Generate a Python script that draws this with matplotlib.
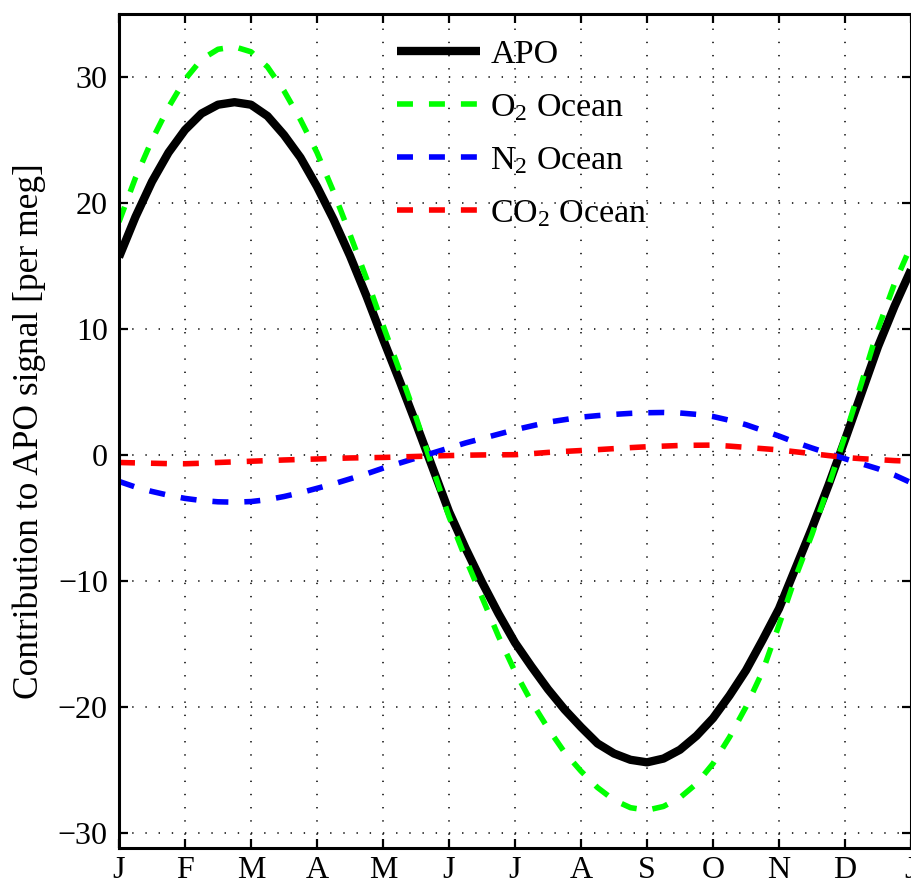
import numpy as np
import matplotlib
matplotlib.use('Agg')
import matplotlib.pyplot as plt

plt.rcParams['font.family'] = ['Liberation Serif', 'DejaVu Serif']
plt.rcParams['mathtext.fontset'] = 'custom'
plt.rcParams['mathtext.rm'] = 'Liberation Serif'
plt.rcParams['mathtext.it'] = 'Liberation Serif:italic'
plt.rcParams['lines.scale_dashes'] = False

# mois (pas de 0.25 mois)
mois = np.arange(0, 12.01, 0.25)
mois_labels = ['J', 'F', 'M', 'A', 'M', 'J', 'J', 'A', 'S', 'O', 'N', 'D', 'J']

apo = [15.7, 18.9, 21.7, 24.0, 25.8, 27.1, 27.8, 28.0, 27.8, 26.9, 25.4, 23.6, 21.3,
       18.7, 15.8, 12.6, 9.2, 5.9, 2.5, -1.0, -4.5, -7.4, -10.1, -12.6, -14.9,
       -16.8, -18.6, -20.2, -21.6, -22.9, -23.7, -24.2, -24.4, -24.1, -23.4, -22.3, -20.9,
       -19.1, -17.1, -14.7, -12.2, -9.0, -5.8, -2.4, 1.2, 4.9, 8.6, 11.8, 14.7]
o2 = [18.5, 22.0, 25.0, 27.6, 29.8, 31.4, 32.2, 32.4, 32.0, 30.8, 28.9, 26.6, 24.0,
      20.9, 17.5, 14.0, 10.3, 6.7, 3.0, -1.0, -4.9, -8.2, -11.3, -14.4, -17.2,
      -19.6, -21.7, -23.6, -25.1, -26.4, -27.4, -28.0, -28.2, -27.9, -27.2, -26.1, -24.5,
      -22.4, -20.0, -17.2, -13.5, -9.7, -6.3, -2.5, 1.5, 5.7, 10.0, 13.6, 16.6]
n2 = [-2.1, -2.55, -2.9, -3.2, -3.45, -3.62, -3.72, -3.75, -3.7, -3.55, -3.3, -3.0, -2.65,
      -2.3, -1.9, -1.5, -1.05, -0.65, -0.25, 0.15, 0.55, 0.95, 1.3, 1.65, 2.0,
      2.3, 2.6, 2.8, 3.0, 3.12, 3.22, 3.3, 3.35, 3.37, 3.33, 3.22, 3.05,
      2.75, 2.4, 1.95, 1.5, 1.0, 0.55, 0.12, -0.3, -0.7, -1.1, -1.6, -2.2]
co2 = [-0.6, -0.63, -0.66, -0.69, -0.7, -0.66, -0.6, -0.55, -0.5, -0.45, -0.4, -0.36, -0.32,
       -0.28, -0.24, -0.22, -0.2, -0.16, -0.12, -0.08, -0.05, -0.02, 0.0, 0.01, 0.02,
       0.1, 0.2, 0.28, 0.35, 0.42, 0.5, 0.58, 0.65, 0.7, 0.75, 0.77, 0.78,
       0.7, 0.6, 0.5, 0.4, 0.25, 0.1, -0.05, -0.2, -0.3, -0.37, -0.45, -0.5]

fig = plt.figure(figsize=(9.12, 8.88), dpi=100)
ax = fig.add_axes([119/912, 40/888, 792/912, 834/888])

dash = (11.5, 11.5)
ax.plot(mois, apo, color='k', lw=6, label='APO', solid_capstyle='butt')
ax.plot(mois, o2, color='#00ff00', lw=4, dashes=dash, dash_capstyle='butt', label=r'O$_2$ Ocean')
ax.plot(mois, n2, color='#0000ff', lw=4, dashes=dash, dash_capstyle='butt', label=r'N$_2$ Ocean')
ax.plot(mois, co2, color='#ff0000', lw=4, dashes=dash, dash_capstyle='butt', label=r'CO$_2$ Ocean')

ax.set_xlim(0, 12)
ax.set_ylim(-31.2, 35)
ax.set_xticks(np.arange(13))
ax.set_xticklabels(mois_labels)
ax.set_yticks(np.arange(-30, 31, 10))

ax.grid(True, color='k', linestyle=(0, (1, 8.5)), linewidth=1.1)
ax.tick_params(direction='in', length=6.5, width=1.6, labelsize=23,
               top=True, right=True)
ax.tick_params(axis='x', pad=6)
ax.tick_params(axis='y', pad=8)
for s in ax.spines.values():
    s.set_linewidth(2.2)

ax.set_ylabel('Contribution to APO signal [per meg]', fontsize=25.5)
ax.yaxis.set_label_coords(-0.092, 0.5)

leg = ax.legend(loc='upper left', bbox_to_anchor=(0.329, 0.99), frameon=False,
                fontsize=24.5, handlelength=2.45, handletextpad=0.3,
                labelspacing=0.65, borderpad=0)

fig.savefig('out.png', dpi=100)
